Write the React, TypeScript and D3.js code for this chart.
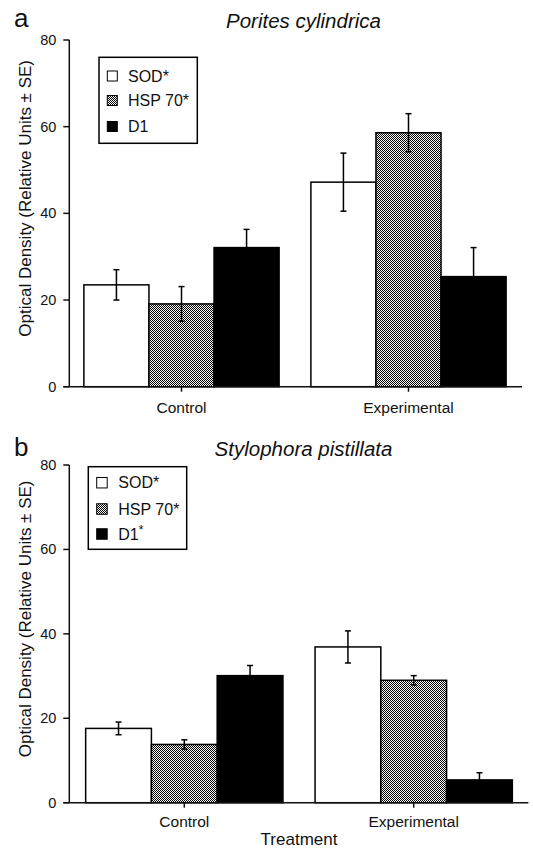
import React from "react";
import * as d3 from "d3";

const categories = ["Control", "Experimental"];
const seriesNames = ["SOD", "HSP 70", "D1"];
const yTicks = [0, 20, 40, 60, 80];

// Panel a: Porites cylindrica (rows = categories, columns = series)
const poritesTitle = "Porites cylindrica";
const poritesMean = [
  [23.5, 19.1, 32.1],
  [47.2, 58.6, 25.4],
];
const poritesSE = [
  [3.5, 4.0, 4.2],
  [6.7, 4.4, 6.7],
];
const poritesStar = [true, true, false];

// Panel b: Stylophora pistillata
const stylophoraTitle = "Stylophora pistillata";
const stylophoraMean = [
  [17.6, 13.8, 30.1],
  [36.9, 29.0, 5.4],
];
const stylophoraSE = [
  [1.5, 1.1, 2.4],
  [3.8, 1.1, 1.7],
];
const stylophoraStar = [true, true, true];

const FONT = "'Liberation Sans', Arial, Helvetica, sans-serif";
const INK = "#111";

type PanelProps = {
  letter: string;
  title: string;
  means: number[][];
  ses: number[][];
  stars: boolean[];
  top: number;
  bottom: number;
  xLeft: number;
  xRight: number;
  axisX: number;
  letterY: number;
  titleY: number;
  titleX: number;
  catLabelY: number;
  legend: { x: number; y: number; w: number; h: number; rows: number[]; swX: number; swSize: number; textX: number; superStar: boolean };
};

function fillFor(i: number) {
  if (i === 0) return "#fff";
  if (i === 1) return "url(#checker)";
  return "#000";
}

function Panel(p: PanelProps) {
  const y = d3.scaleLinear().domain([0, 80]).range([p.bottom, p.top]);
  const x0 = d3
    .scaleBand<string>()
    .domain(categories)
    .range([p.xLeft, p.xRight])
    .paddingInner(0.14)
    .paddingOuter(0.07);
  const x1 = d3.scaleBand<string>().domain(seriesNames).range([0, x0.bandwidth()]).padding(0);
  const cap = 3;
  const labelCenter = (p.top + p.bottom) / 2 - 15;
  return (
    <g>
      <text x={14} y={p.letterY} fontSize={26} fontFamily={FONT} fill={INK}>
        {p.letter}
      </text>
      <text x={p.titleX} y={p.titleY} fontSize={20.5} fontStyle="italic" fontFamily={FONT} fill={INK} textAnchor="middle">
        {p.title}
      </text>
      <text
        transform={`translate(30.5,${labelCenter}) rotate(-90)`}
        fontSize={17}
        fontFamily={FONT}
        fill={INK}
        textAnchor="middle"
      >
        Optical Density (Relative Units ± SE)
      </text>
      {/* bars */}
      {categories.map((c, ci) =>
        seriesNames.map((s, si) => {
          const v = p.means[ci][si];
          const bx = (x0(c) as number) + (x1(s) as number);
          return (
            <rect
              key={c + s}
              x={bx}
              y={y(v)}
              width={x1.bandwidth()}
              height={y(0) - y(v)}
              fill={fillFor(si)}
              stroke="#000"
              strokeWidth={1.5}
            />
          );
        })
      )}
      {/* error bars */}
      {categories.map((c, ci) =>
        seriesNames.map((s, si) => {
          const v = p.means[ci][si];
          const e = p.ses[ci][si];
          const cx = (x0(c) as number) + (x1(s) as number) + x1.bandwidth() / 2;
          return (
            <g key={"e" + c + s} stroke="#000" strokeWidth={1.5}>
              <line x1={cx} x2={cx} y1={y(v - e)} y2={y(v + e)} />
              <line x1={cx - cap} x2={cx + cap} y1={y(v + e)} y2={y(v + e)} />
              <line x1={cx - cap} x2={cx + cap} y1={y(v - e)} y2={y(v - e)} />
            </g>
          );
        })
      )}
      {/* y axis */}
      <line x1={p.axisX} x2={p.axisX} y1={y(80)} y2={y(0)} stroke={INK} strokeWidth={1.5} />
      {yTicks.map((t) => (
        <g key={t}>
          <line x1={p.axisX - 6} x2={p.axisX} y1={y(t)} y2={y(t)} stroke={INK} strokeWidth={1.5} />
          <text x={p.axisX - 13} y={y(t) + 5} fontSize={14.5} fontFamily={FONT} fill={INK} textAnchor="end">
            {t}
          </text>
        </g>
      ))}
      {/* x axis */}
      <line x1={p.axisX - 6} x2={p.xRight} y1={y(0)} y2={y(0)} stroke={INK} strokeWidth={1.5} />
      {categories.map((c) => {
        const cx = (x0(c) as number) + x0.bandwidth() / 2;
        return (
          <g key={"x" + c}>
            <line x1={cx} x2={cx} y1={y(0)} y2={y(0) + 5} stroke={INK} strokeWidth={1.5} />
            <text x={cx} y={p.catLabelY} fontSize={15.5} fontFamily={FONT} fill={INK} textAnchor="middle">
              {c}
            </text>
          </g>
        );
      })}
      {/* legend */}
      <rect x={p.legend.x} y={p.legend.y} width={p.legend.w} height={p.legend.h} fill="#fff" stroke="#000" strokeWidth={1.5} />
      {seriesNames.map((s, si) => {
        const ry = p.legend.rows[si];
        const sz = p.legend.swSize;
        const star = p.stars[si];
        const superStar = p.legend.superStar && si === 2;
        return (
          <g key={"l" + s}>
            <rect x={p.legend.swX} y={ry - sz / 2} width={sz} height={sz} fill={fillFor(si)} stroke="#000" strokeWidth={1} />
            <text x={p.legend.textX} y={ry + 5.5} fontSize={16} fontFamily={FONT} fill={INK}>
              {s}
              {star && !superStar ? "*" : null}
              {star && superStar ? (
                <tspan dy={-6} fontSize={12}>
                  *
                </tspan>
              ) : null}
            </text>
          </g>
        );
      })}
    </g>
  );
}

export default function App() {
  return (
    <svg
      width={533}
      height={850}
      viewBox="0 0 533 850"
      style={{ position: "absolute", left: 0, top: 0, background: "#fff" }}
    >
      <defs>
        <pattern id="checker" patternUnits="userSpaceOnUse" width={2} height={2}>
          <rect x={0} y={0} width={2} height={2} fill="#fff" />
          <rect x={0} y={0} width={1} height={1} fill="#000" />
          <rect x={1} y={1} width={1} height={1} fill="#000" />
        </pattern>
      </defs>
      <rect x={0} y={0} width={533} height={850} fill="#fff" />
      <Panel
        letter="a"
        title={poritesTitle}
        means={poritesMean}
        ses={poritesSE}
        stars={poritesStar}
        top={40}
        bottom={386.7}
        xLeft={68}
        xRight={522}
        axisX={69.3}
        letterY={27}
        titleY={28}
        titleX={303.5}
        catLabelY={413}
        legend={{ x: 99, y: 57.3, w: 98.3, h: 86, rows: [76, 100.5, 126.5], swX: 107.3, swSize: 10, textX: 128, superStar: false }}
      />
      <Panel
        letter="b"
        title={stylophoraTitle}
        means={stylophoraMean}
        ses={stylophoraSE}
        stars={stylophoraStar}
        top={465}
        bottom={802.7}
        xLeft={69.6}
        xRight={528.4}
        axisX={69.3}
        letterY={456}
        titleY={456}
        titleX={303.5}
        catLabelY={826.7}
        legend={{ x: 88.3, y: 466.7, w: 98.4, h: 82.6, rows: [482.7, 509, 534], swX: 96.7, swSize: 10.5, textX: 118.3, superStar: true }}
      />
      <text x={299} y={845} fontSize={17} fontFamily={FONT} fill={INK} textAnchor="middle">
        Treatment
      </text>
    </svg>
  );
}
